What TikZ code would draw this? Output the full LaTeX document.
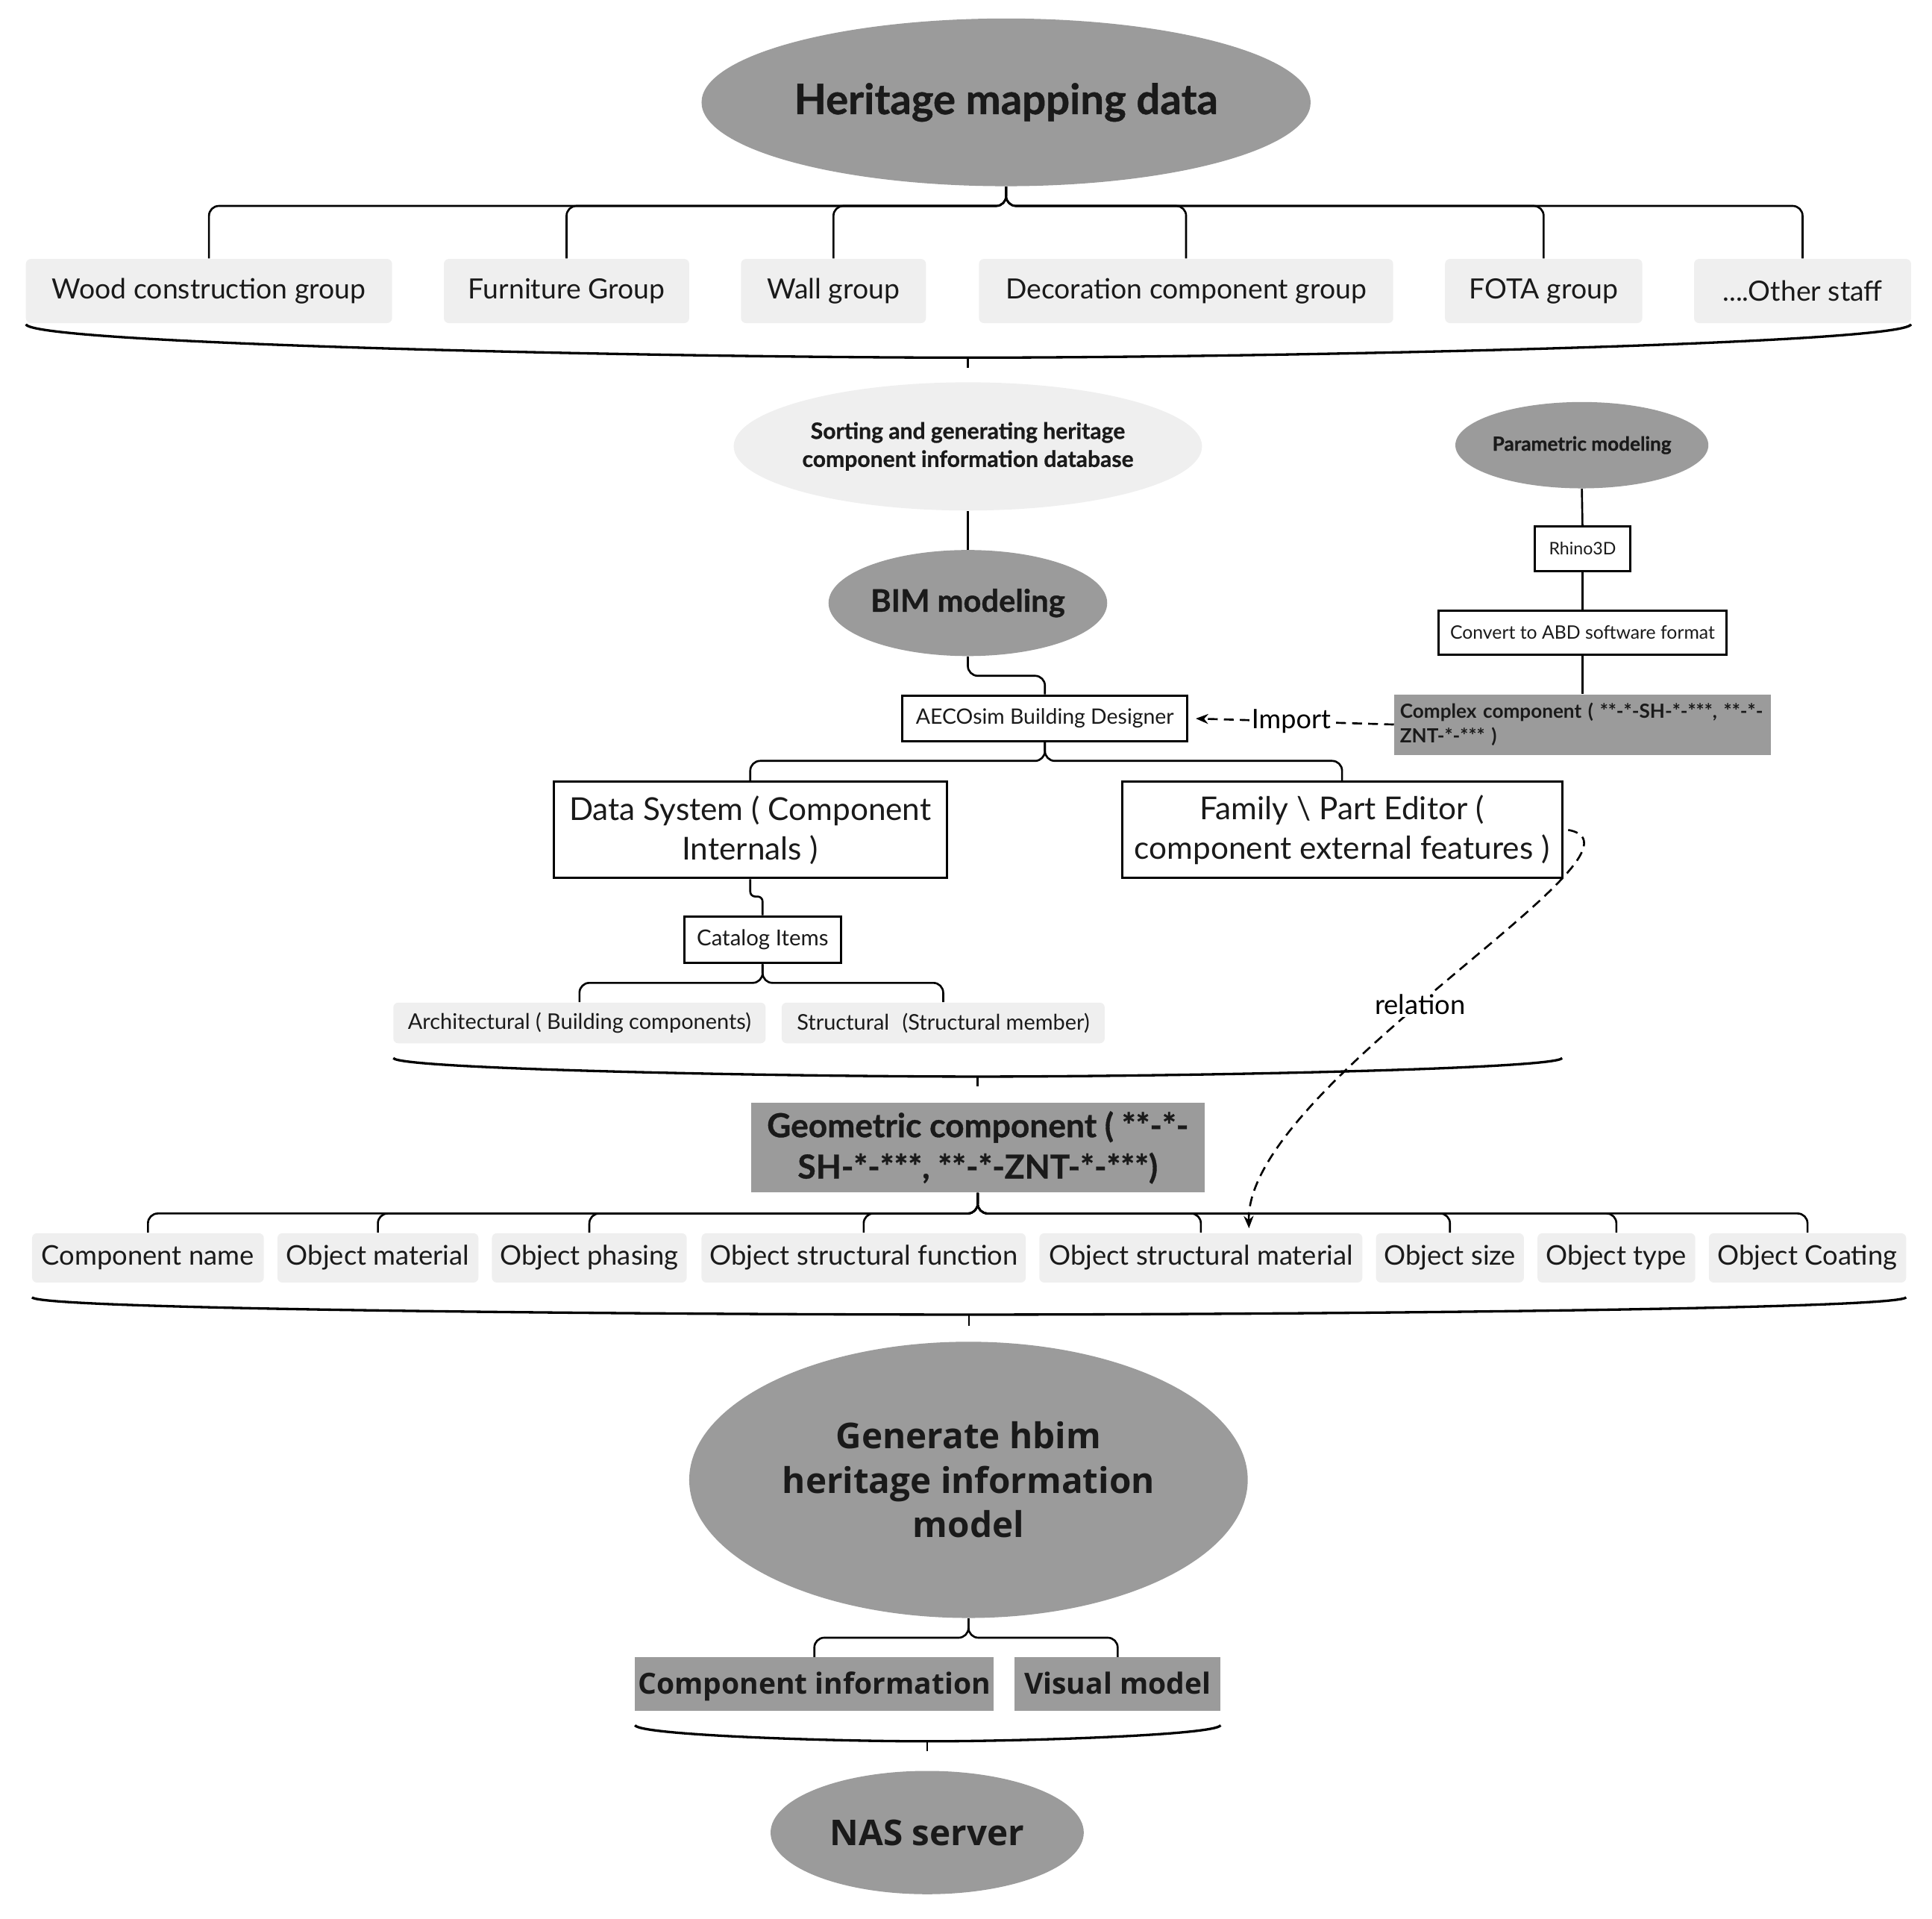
\documentclass[tikz,border=0pt]{standalone}
\usepackage{fontspec}
\setmainfont{Lato}
\newfontfamily\heavy{Lato}[BoldFeatures={FakeBold=0.8}]
\newfontfamily\osans{Open Sans}
\usetikzlibrary{arrows.meta,shapes.geometric}
\definecolor{dg}{HTML}{9B9B9B}
\definecolor{lg}{HTML}{EFEFEF}
\definecolor{tx}{HTML}{1A1A1A}
\newcommand\fs[1]{\fontsize{#1}{\fpeval{#1*1.25}}\selectfont}
\begin{document}
\begin{tikzpicture}[x=0.5pt,y=-0.5pt,
  ell/.style={ellipse, fill=dg, inner sep=0pt, align=center, text=tx},
  lell/.style={ellipse, fill=lg, inner sep=0pt, align=center, text=tx},
  lbox/.style={rectangle, rounded corners=2pt, fill=lg, inner sep=0pt, align=center, text=tx},
  wbox/.style={rectangle, draw=black, line width=0.9pt, fill=white, inner sep=0pt, align=center, text=tx},
  gbox/.style={rectangle, fill=dg, inner sep=0pt, align=center, text=tx},
  conn/.style={draw=black, line width=0.8pt, rounded corners=4pt},
  brace/.style={draw=black, line width=1pt},
  darr/.style={draw=black, line width=0.8pt, dash pattern=on 4pt off 2.5pt, -{Stealth[length=5pt,width=4pt]}}
]
\useasboundingbox (0,0) rectangle (1567,1556);

% top
\node[ell, minimum width=247pt, minimum height=68pt, font=\heavy\bfseries\fs{17}] (top) at (816,83) {Heritage mapping data};
\node[lbox, minimum width=148.5pt, minimum height=26pt, font=\fs{11.3}] (wood) at (169.5,236) {Wood construction group};
\node[lbox, minimum width=99.5pt, minimum height=26pt, font=\fs{11.3}] (furn) at (459.5,236) {Furniture Group};
\node[lbox, minimum width=75pt, minimum height=26pt, font=\fs{11.3}] (wall) at (676,236) {Wall group};
\node[lbox, minimum width=168pt, minimum height=26pt, font=\fs{11.3}] (deco) at (962,236) {Decoration component group};
\node[lbox, minimum width=80pt, minimum height=26pt, font=\fs{11.3}] (fota) at (1252,236) {FOTA group};
\node[lbox, minimum width=88pt, minimum height=26pt, font=\fs{11.3}] (other) at (1462,236) {....Other staff};

\coordinate (j1) at (816,167);
\foreach \c in {wood,furn,wall,deco,fota,other}
  \draw[conn] (top.south) -- (j1) -| (\c.north);

\coordinate (bl1) at (21,263);
\coordinate (bc1) at (785,290);
\coordinate (br1) at (1550,263);
\coordinate (bt1) at (785,298);
\draw[brace] (bl1) .. controls +(6,16) and +(-250,0) .. (bc1) .. controls +(250,0) and +(-6,16) .. (br1);
\draw[conn] (bc1) -- (bt1);

% middle
\node[lell, minimum width=183pt, minimum height=52pt, font=\heavy\bfseries\fs{9.1}] (sort) at (785,362) {Sorting and generating heritage\\component information database};
\node[ell, minimum width=113pt, minimum height=43pt, font=\heavy\bfseries\fs{12.6}] (bim) at (785,489) {BIM modeling};
\draw[conn] (sort.south) -- (bim.north);

\node[ell, minimum width=101pt, minimum height=35pt, font=\heavy\bfseries\fs{7.9}] (param) at (1283,361) {Parametric modeling};
\node[wbox, minimum width=38.5pt, minimum height=18pt, font=\fs{7}] (rhino) at (1283.5,445) {Rhino3D};
\node[wbox, minimum width=116.5pt, minimum height=18pt, font=\fs{7.5}] (conv) at (1283.5,513) {Convert to ABD software format};
\node[gbox, minimum width=152.5pt, minimum height=24.5pt, text width=148pt, align=left, font=\bfseries\fs{7.9}] (cplx) at (1283.5,587.5) {Complex component ( **-*-SH-*-***, **-*-\\ZNT-*-*** )};
\draw[conn] (param.south) -- (rhino.north);
\draw[conn] (rhino.south) -- (conv.north);
\draw[conn] (conv.south) -- (cplx.north);

\node[wbox, minimum width=115.5pt, minimum height=18.5pt, font=\fs{8.6}] (aeco) at (847.5,582.5) {AECOsim Building Designer};
\coordinate (j2) at (785,548);
\draw[conn] (bim.south) -- (j2) -| (aeco.north);

\draw[darr, shorten >=3pt] (cplx.west) -- node[fill=white, inner sep=1pt, font=\fs{10.9}] (imp) {Import} (aeco.east);

\node[wbox, minimum width=159.5pt, minimum height=39pt, font=\fs{12.8}] (ds) at (608.5,673) {Data System ( Component\\Internals )};
\node[wbox, minimum width=178.5pt, minimum height=39pt, font=\fs{12.8}] (fam) at (1088.5,673) {Family \textbackslash{} Part Editor (\\component external features )};
\coordinate (j3) at (847.5,617);
\draw[conn] (aeco.south) -- (j3) -| (ds.north);
\draw[conn] (aeco.south) -- (j3) -| (fam.north);

\node[wbox, minimum width=63.5pt, minimum height=19pt, font=\fs{8.9}] (cat) at (618.5,762) {Catalog Items};
\coordinate (j4) at (608.5,727);
\draw[conn, rounded corners=2pt] (ds.south) -- (j4) -| (cat.north);

\node[lbox, minimum width=151pt, minimum height=16.5pt, font=\fs{8.75}] (arch) at (470,829.5) {Architectural ( Building components)};
\node[lbox, minimum width=131pt, minimum height=16.5pt, font=\fs{8.75}] (struc) at (765,829.5) {Structural\hspace{0.6em}(Structural member)};
\coordinate (j5) at (618.5,797);
\draw[conn] (cat.south) -- (j5) -| (arch.north);
\draw[conn] (cat.south) -- (j5) -| (struc.north);

\coordinate (bl2) at (319,858);
\coordinate (bc2) at (793,873);
\coordinate (br2) at (1267,858);
\coordinate (bt2) at (793,881);
\draw[brace] (bl2) .. controls +(5,9) and +(-160,0) .. (bc2) .. controls +(160,0) and +(-5,9) .. (br2);
\draw[conn] (bc2) -- (bt2);

% geometric
\node[gbox, minimum width=184pt, minimum height=36.5pt, font=\heavy\bfseries\fs{13.4}] (geo) at (793,930.5) {Geometric component ( **-*-\\SH-*-***, **-*-ZNT-*-***)};

\node[lbox, minimum width=94pt, minimum height=20pt, font=\fs{11}] (o1) at (120,1020) {Component name};
\node[lbox, minimum width=81.5pt, minimum height=20pt, font=\fs{11}] (o2) at (306.5,1020) {Object material};
\node[lbox, minimum width=79pt, minimum height=20pt, font=\fs{11}] (o3) at (478,1020) {Object phasing};
\node[lbox, minimum width=131.5pt, minimum height=20pt, font=\fs{11}] (o4) at (700.5,1020) {Object structural function};
\node[lbox, minimum width=131pt, minimum height=20pt, font=\fs{11}] (o5) at (974,1020) {Object structural material};
\node[lbox, minimum width=60pt, minimum height=20pt, font=\fs{11}] (o6) at (1176,1020) {Object size};
\node[lbox, minimum width=64pt, minimum height=20pt, font=\fs{11}] (o7) at (1311,1020) {Object type};
\node[lbox, minimum width=80pt, minimum height=20pt, font=\fs{11}] (o8) at (1466,1020) {Object Coating};
\coordinate (j6) at (793,984);
\foreach \c in {o1,o2,o3,o4,o5,o6,o7,o8}
  \draw[conn] (geo.south) -- (j6) -| (\c.north);

\coordinate (rend) at (1013,996);
\draw[darr] ([xshift=2pt]fam.east) .. controls (1355,688) and (1010,880) .. node[pos=0.545, fill=white, inner sep=1pt, font=\fs{11}] (rel) {relation} (rend);

\coordinate (bl3) at (26,1052);
\coordinate (bc3) at (786,1066);
\coordinate (br3) at (1546,1052);
\coordinate (bt3) at (786,1075);
\draw[brace] (bl3) .. controls +(6,10) and +(-250,0) .. (bc3) .. controls +(250,0) and +(-6,10) .. (br3);
\draw[conn] (bc3) -- (bt3);

% bottom
\node[ell, minimum width=226.5pt, minimum height=112pt, font=\osans\bfseries\fs{14.4}] (gen) at (785.5,1200) {Generate hbim\\heritage information\\model};
\node[gbox, minimum width=145.5pt, minimum height=21.5pt, text height=9.8pt, text depth=1.4pt, font=\osans\bfseries\fs{11.8}] (ci) at (660.5,1365.5) {Component information};
\node[gbox, minimum width=83.5pt, minimum height=21.5pt, text height=9.8pt, text depth=1.4pt, font=\osans\bfseries\fs{11.8}] (vm) at (906.5,1365.5) {Visual model};
\coordinate (j7) at (785.5,1328);
\draw[conn] (gen.south) -- (j7) -| (ci.north);
\draw[conn] (gen.south) -- (j7) -| (vm.north);

\coordinate (bl4) at (515,1399);
\coordinate (bc4) at (752,1412);
\coordinate (br4) at (990,1399);
\coordinate (bt4) at (752,1420);
\draw[brace] (bl4) .. controls +(4,8) and +(-80,0) .. (bc4) .. controls +(80,0) and +(-4,8) .. (br4);
\draw[conn] (bc4) -- (bt4);

\node[ell, minimum width=127pt, minimum height=50pt, font=\osans\bfseries\fs{14.4}] (nas) at (752,1486) {NAS server};
\end{tikzpicture}
\end{document}
